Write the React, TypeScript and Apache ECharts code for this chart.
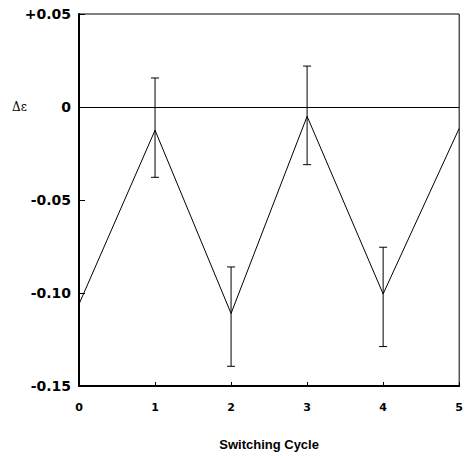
import React, { useEffect, useRef } from "react";
import * as echarts from "echarts";

const cycles = [0, 1, 2, 3, 4, 5];
const deltaEps = [-0.106, -0.0125, -0.111, -0.005, -0.1005, -0.0115];
const errCycles = [1, 2, 3, 4];
const errLow = [-0.0378, -0.1394, -0.031, -0.1288];
const errHigh = [0.0156, -0.086, 0.022, -0.0754];
const yTickValues = [0.05, 0, -0.05, -0.1, -0.15];
const yTickLabels = ["+0.05", "0", "-0.05", "-0.10", "-0.15"];
const xTickLabels = ["0", "1", "2", "3", "4", "5"];

export default function App() {
  const ref = useRef<HTMLDivElement>(null);
  useEffect(() => {
    if (!ref.current) return;
    const chart = echarts.init(ref.current, null, { renderer: "svg" });
    const lineData = cycles.map((c, i) => [c, deltaEps[i]]);
    const errData = errCycles.map((c, i) => [c, errLow[i], errHigh[i]]);
    chart.setOption({
      animation: false,
      backgroundColor: "#ffffff",
      grid: {
        left: 79,
        right: 2,
        top: 14,
        bottom: 64,
        show: true,
        borderColor: "#000",
        borderWidth: 1,
      },
      xAxis: {
        type: "value",
        min: 0,
        max: 5,
        interval: 1,
        name: "Switching Cycle",
        nameLocation: "middle",
        nameGap: 52,
        nameTextStyle: {
          fontFamily: "Liberation Sans",
          fontWeight: "bold",
          fontSize: 13,
          color: "#000",
        },
        axisLine: { show: true, onZero: false, lineStyle: { color: "#000", width: 2 } },
        axisTick: { show: true, inside: true, length: 4, lineStyle: { color: "#000", width: 1 } },
        splitLine: { show: false },
        axisLabel: {
          margin: 16,
          fontFamily: "DejaVu Sans",
          fontWeight: "bold",
          fontSize: 11,
          color: "#000",
          formatter: (v: number) => xTickLabels[Math.round(v)] ?? "",
        },
      },
      yAxis: {
        type: "value",
        min: -0.15,
        max: 0.05,
        interval: 0.05,
        axisLine: { show: true, onZero: false, lineStyle: { color: "#000", width: 2 } },
        axisTick: { show: true, inside: true, length: 6, lineStyle: { color: "#000", width: 1 } },
        splitLine: { show: false },
        axisLabel: {
          margin: 8,
          fontFamily: "DejaVu Sans",
          fontWeight: "bold",
          fontSize: 14,
          color: "#000",
          formatter: (v: number) => {
            const idx = yTickValues.findIndex((t) => Math.abs(t - v) < 1e-6);
            return idx >= 0 ? yTickLabels[idx] : "";
          },
        },
      },
      graphic: [
        {
          type: "text",
          left: 12,
          top: 101,
          style: {
            text: "Δε",
            fontFamily: "DejaVu Serif",
            fontSize: 12,
            fill: "#000",
          },
        },
      ],
      series: [
        {
          type: "line",
          data: lineData,
          showSymbol: false,
          lineStyle: { color: "#000", width: 1 },
          markLine: {
            silent: true,
            symbol: "none",
            label: { show: false },
            lineStyle: { color: "#000", width: 1, type: "solid" },
            data: [{ yAxis: 0 }],
          },
        },
        {
          type: "custom",
          data: errData,
          renderItem: (params: any, api: any) => {
            const x = api.value(0);
            const lo = api.coord([x, api.value(1)]);
            const hi = api.coord([x, api.value(2)]);
            const cap = 4;
            const style = { stroke: "#000", lineWidth: 1 };
            return {
              type: "group",
              children: [
                { type: "line", shape: { x1: lo[0], y1: lo[1], x2: hi[0], y2: hi[1] }, style },
                { type: "line", shape: { x1: lo[0] - cap, y1: lo[1], x2: lo[0] + cap, y2: lo[1] }, style },
                { type: "line", shape: { x1: hi[0] - cap, y1: hi[1], x2: hi[0] + cap, y2: hi[1] }, style },
              ],
            };
          },
        },
      ],
    });
    return () => chart.dispose();
  }, []);
  return (
    <div
      ref={ref}
      style={{ position: "absolute", left: 0, top: 0, width: 466, height: 456 }}
    />
  );
}
